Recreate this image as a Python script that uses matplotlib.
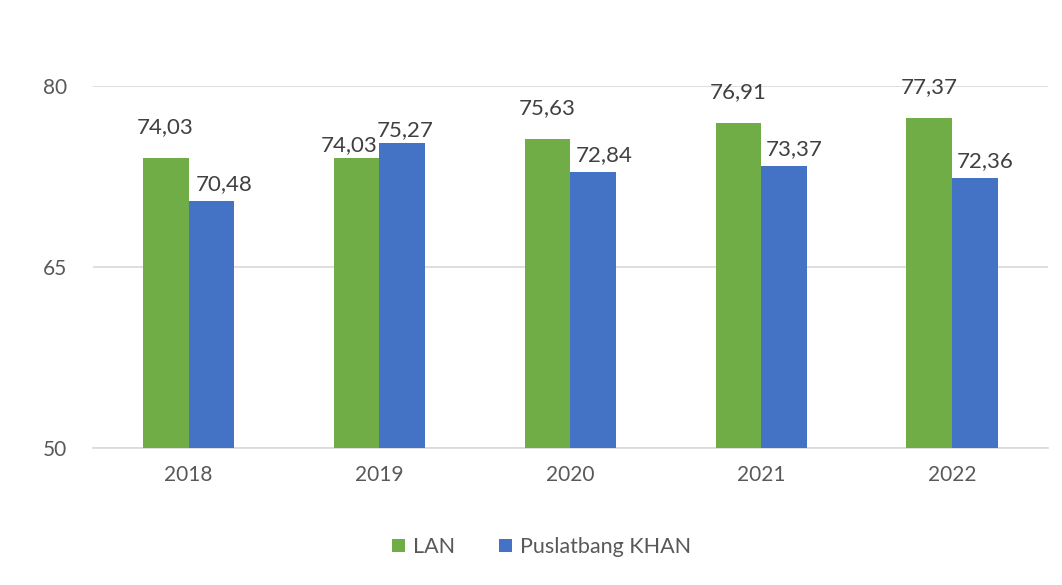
import matplotlib.pyplot as plt
import numpy as np

years = ["2018", "2019", "2020", "2021", "2022"]
lan = [74.03, 74.03, 75.63, 76.91, 77.37]
khan = [70.48, 75.27, 72.84, 73.37, 72.36]

# label nudges (points): lift above bar top and sideways shift
lan_lift = [15, 2, 15, 15, 15]
khan_lift = [5, 2, 5, 5, 5]
lan_dx = [0, -5, 0, 0, 0]
khan_dx = [9, 2, 8, 7, 7]

green = "#70ad47"
blue = "#4472c4"

plt.rcParams['font.family'] = ['Lato', 'DejaVu Sans']

fig = plt.figure(figsize=(10.62, 5.85), dpi=100)
fig.patch.set_facecolor("white")
ax = fig.add_axes([0.0876, 0.234, 0.899, 0.619])

x = np.arange(len(years))
w = 0.24
b1 = ax.bar(x - w / 2, lan, w, color=green, label="LAN", zorder=3)
b2 = ax.bar(x + w / 2, khan, w, color=blue, label="Puslatbang KHAN", zorder=3)

def fmt(v):
    return f"{v:.2f}".replace(".", ",")

for i in range(len(years)):
    ax.annotate(fmt(lan[i]), (x[i] - w / 2, lan[i]), xytext=(lan_dx[i], lan_lift[i]),
                textcoords="offset points", ha="center", va="bottom",
                fontsize=16, color="#404040")
    ax.annotate(fmt(khan[i]), (x[i] + w / 2, khan[i]), xytext=(khan_dx[i], khan_lift[i]),
                textcoords="offset points", ha="center", va="bottom",
                fontsize=16, color="#404040")

ax.set_xlim(-0.5, len(years) - 0.5)
ax.set_ylim(50, 80)
ax.set_yticks([50, 65, 80])
ax.set_xticks(x)
ax.set_xticklabels(years)
ax.grid(axis="y", color="#d9d9d9", linewidth=1.2, zorder=0)
for s in ["top", "right", "left"]:
    ax.spines[s].set_visible(False)
ax.spines["bottom"].set_color("#d9d9d9")
ax.spines["bottom"].set_linewidth(1.2)
ax.tick_params(axis="both", length=0, labelsize=15, labelcolor="#595959")
ax.tick_params(axis="y", pad=19)
ax.tick_params(axis="x", pad=12)

fig.legend(handles=[b1, b2], loc="center", bbox_to_anchor=(0.51, 0.065),
           ncol=2, frameon=False, fontsize=15.5, handlelength=0.6,
           handleheight=0.6, columnspacing=2.0, handletextpad=0.4,
           labelcolor="#595959")

fig.savefig("out.png", dpi=100, facecolor=fig.get_facecolor())
